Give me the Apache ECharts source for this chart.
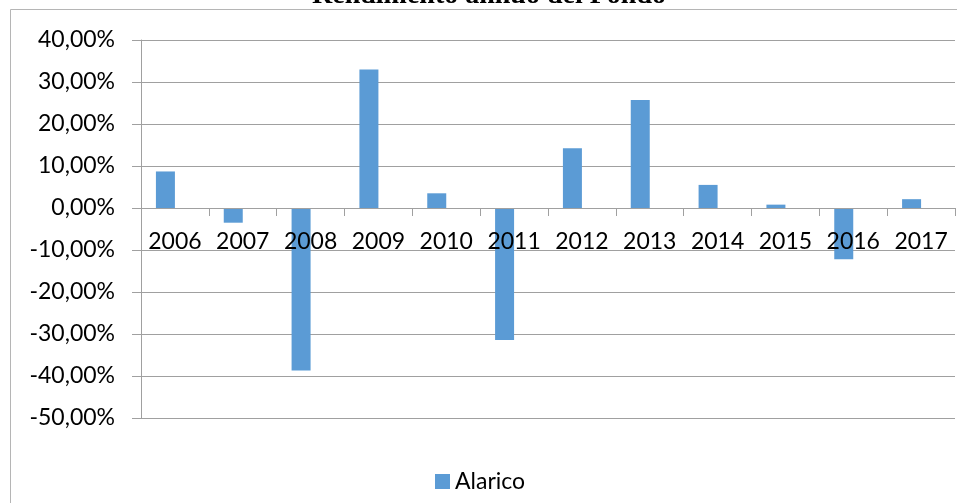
<!DOCTYPE html>
<html>
<head>
<meta charset="utf-8">
<script src="https://cdn.jsdelivr.net/npm/echarts@6/dist/echarts.min.js"></script>
<style>html,body{margin:0;padding:0;background:#fff;}#c{width:957px;height:503px;}</style>
</head>
<body>
<div id="c"></div>
<script>
const titleText = 'Rendimento annuo del Fondo';
const categories = ['2006','2007','2008','2009','2010','2011','2012','2013','2014','2015','2016','2017'];
const seriesName = 'Alarico';
const alaricoValues = [8.7, -3.5, -38.7, 33.0, 3.5, -31.4, 14.2, 25.7, 5.5, 0.8, -12.2, 2.1];
const spacerValues = [];
const yMin = -50, yMax = 40, yStep = 10;

const gridTop = 40, gridBottom = 85, H = 503;
const plotH = H - gridTop - gridBottom;
const zeroOffset = -plotH * (0 - yMin) / (yMax - yMin);

const chart = echarts.init(document.getElementById('c'));
const fmt = v => v.toFixed(2).replace('.', ',') + '%';
const font = 'Lato';
chart.setOption({
  animation: false,
  backgroundColor: '#fff',
  title: {
    text: titleText,
    left: 307, top: -23,
    textStyle: { fontFamily: 'Liberation Serif', fontWeight: 'bold', fontSize: 28, color: '#000' }
  },
  graphic: [{
    type: 'rect', silent: true, z: -1,
    shape: { x: 10.5, y: 9.5, width: 1000, height: 1000 },
    style: { fill: 'none', stroke: '#b5b5b5', lineWidth: 1 }
  }],
  legend: {
    data: [seriesName],
    left: 430, top: 465,
    itemWidth: 15, itemHeight: 15, itemGap: 10,
    icon: 'rect',
    textStyle: { fontFamily: font, fontSize: 23, color: '#000' }
  },
  grid: { left: 141, right: 2, top: gridTop, bottom: gridBottom, containLabel: false },
  xAxis: {
    type: 'category',
    data: categories,
    position: 'bottom',
    offset: zeroOffset,
    z: 3,
    axisLine: { onZero: false, lineStyle: { color: '#a0a0a0', width: 1 } },
    axisTick: { show: true, length: 8, lineStyle: { color: '#a0a0a0' } },
    axisLabel: { margin: 22, fontFamily: font, fontSize: 23, color: '#000', interval: 0 },
    splitLine: { show: false }
  },
  yAxis: {
    type: 'value',
    min: yMin, max: yMax, interval: yStep,
    axisLine: { show: true, lineStyle: { color: '#a0a0a0', width: 1 } },
    axisTick: { show: true, length: 9, lineStyle: { color: '#a0a0a0' } },
    axisLabel: { margin: 26, fontFamily: font, fontSize: 23, color: '#000', formatter: fmt },
    splitLine: { show: true, lineStyle: { color: '#a0a0a0', width: 1 } }
  },
  series: [
    { name: seriesName, type: 'bar', data: alaricoValues, barWidth: 19, barGap: '0%',
      itemStyle: { color: '#5b9bd5' } },
    { name: 'spacer', type: 'bar', data: spacerValues, barWidth: 19, barGap: '0%',
      itemStyle: { color: 'transparent' } }
  ]
});
</script>
</body>
</html>
